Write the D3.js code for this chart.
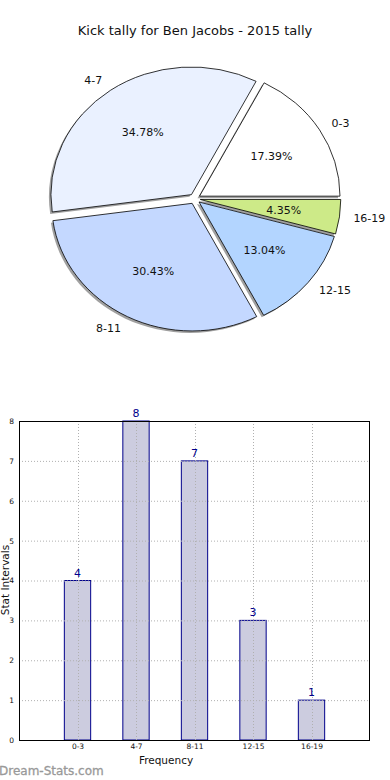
<!DOCTYPE html>
<html><head><meta charset="utf-8">
<script src="https://cdn.jsdelivr.net/npm/d3@7"></script>
<style>body{margin:0;background:#fff}svg{display:block;font-family:"DejaVu Sans",sans-serif}</style>
</head><body><svg id="c" width="390" height="780"></svg>
<script>
const categories = ["0-3","4-7","8-11","12-15","16-19"];
const counts = [4,8,7,3,1];
const pieColors = ["#ffffff","#eaf1ff","#c4d8ff","#b3d5ff","#cdea88"];
const yTicks = [0,1,2,3,4,5,6,7,8];
const title = "Kick tally for Ben Jacobs - 2015 tally";

const svg = d3.select("#c");
svg.append("rect").attr("width",390).attr("height",780).attr("fill","#fff");
svg.append("text").attr("x",195).attr("y",34.5).attr("text-anchor","middle")
  .attr("font-size",13).attr("fill","#111").text(title);

// ---- Pie ----
const cx = 194.7, cy = 198.8, rx = 140.5, ry = 127.6, explode = 0.04;
const total = d3.sum(counts);
const pie = d3.pie().sort(null).value(d=>d).startAngle(Math.PI/2).endAngle(Math.PI/2 - 2*Math.PI);
const arcs = pie(counts);
const arc = d3.arc().innerRadius(0).outerRadius(1);
const pg = svg.append("g");
function off(a, k){ const m=(a.startAngle+a.endAngle)/2; return [Math.sin(m)*k*rx, -Math.cos(m)*k*ry]; }
// shadows
arcs.forEach((a,i)=>{
  const [ox,oy]=off(a,explode);
  pg.append("path").attr("d",arc(a))
    .attr("transform",`translate(${cx+ox-2},${cy+oy+2}) scale(${rx},${ry})`)
    .attr("fill","#777").attr("opacity",0.7);
});
arcs.forEach((a,i)=>{
  const [ox,oy]=off(a,explode);
  pg.append("path").attr("d",arc(a))
    .attr("transform",`translate(${cx+ox},${cy+oy}) scale(${rx},${ry})`)
    .attr("fill",pieColors[i]).attr("stroke","#000").attr("stroke-width",0.8)
    .attr("vector-effect","non-scaling-stroke");
});
arcs.forEach((a,i)=>{
  const m=(a.startAngle+a.endAngle)/2;
  const lx = cx + Math.sin(m)*(1.1+explode)*rx, ly = cy - Math.cos(m)*(1.1+explode)*ry;
  pg.append("text").attr("x",lx).attr("y",ly).attr("dy","0.35em")
    .attr("text-anchor", Math.sin(m)>0 ? "start":"end")
    .attr("font-size",11).attr("fill","#111").text(categories[i]);
  const px = cx + Math.sin(m)*(0.6+explode)*rx, py = cy - Math.cos(m)*(0.6+explode)*ry;
  pg.append("text").attr("x",px).attr("y",py).attr("dy","0.35em").attr("text-anchor","middle")
    .attr("font-size",11).attr("fill","#111").text((counts[i]/total*100).toFixed(2)+"%");
});

// ---- Bar chart ----
const L=19, R=370, T=421, B=740;
const x = d3.scaleLinear().domain([-1,5]).range([L,R]);
const y = d3.scaleLinear().domain([0,8]).range([B,T]);
const bw = 0.45;
const bg = svg.append("g");
bg.selectAll("rect.bar").data(counts).join("rect").attr("class","bar")
  .attr("x",(d,i)=>x(i-bw/2)).attr("width",x(bw)-x(0))
  .attr("y",d=>y(d)).attr("height",d=>B-y(d))
  .attr("fill","#ccccdf").attr("stroke","#00008b").attr("stroke-width",1);
// grid
bg.selectAll("line.gy").data(yTicks).join("line").attr("x1",L).attr("x2",R)
  .attr("y1",d=>y(d)+0.5).attr("y2",d=>y(d)+0.5)
  .attr("stroke","#b0b0b0").attr("stroke-dasharray","1,2");
bg.selectAll("line.gx").data(categories).join("line").attr("x1",(d,i)=>Math.round(x(i))+0.5).attr("x2",(d,i)=>Math.round(x(i))+0.5)
  .attr("y1",T).attr("y2",B).attr("stroke","#b0b0b0").attr("stroke-dasharray","1,2");
// frame
bg.append("rect").attr("x",L+0.5).attr("y",T+0.5).attr("width",R-L-1).attr("height",B-T)
  .attr("fill","none").attr("stroke","#000").attr("stroke-width",1);
// axes ticks
const ya = d3.axisLeft(y).tickValues(yTicks).tickSize(0).tickPadding(5);
const yg = bg.append("g").attr("transform",`translate(${L},0)`).call(ya);
yg.select(".domain").remove();
yg.selectAll("text").attr("font-size",7.5).attr("fill","#111").attr("font-family","DejaVu Sans");
const xa = d3.axisBottom(x).tickValues(d3.range(categories.length)).tickFormat(i=>categories[i]).tickSize(0).tickPadding(4);
const xg = bg.append("g").attr("transform",`translate(0,${B})`).call(xa);
xg.select(".domain").remove();
xg.selectAll("text").attr("font-size",7.5).attr("fill","#111").attr("font-family","DejaVu Sans");
// value labels
bg.selectAll("text.val").data(counts).join("text").attr("class","val")
  .attr("x",(d,i)=>x(i)).attr("y",d=>y(d)-4).attr("text-anchor","middle")
  .attr("font-size",11).attr("fill","#00008b").text(d=>d);
// axis labels
bg.append("text").attr("x",166).attr("y",764).attr("text-anchor","middle").attr("font-size",10.5).attr("fill","#111").text("Frequency");
bg.append("text").attr("transform","translate(9,580) rotate(-90)").attr("text-anchor","middle").attr("font-size",10.5).attr("fill","#111").text("Stat Intervals");
// watermark
svg.append("text").attr("x",-1).attr("y",775).attr("font-size",12).attr("fill","#999").attr("stroke","#999").attr("stroke-width",0.3).text("Dream-Stats.com");
</script></body></html>
